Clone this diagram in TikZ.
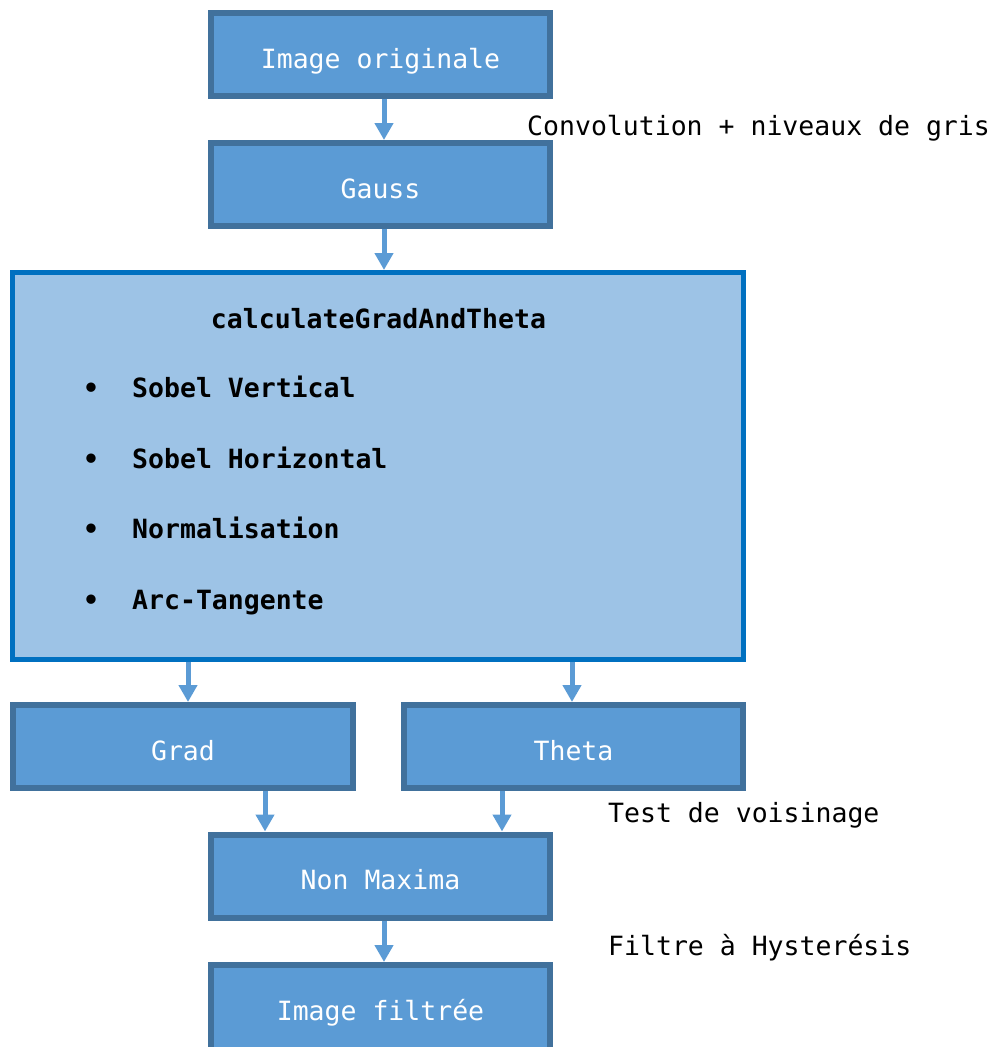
\documentclass[tikz,border=0pt]{standalone}
\usepackage{fontspec}
\setmainfont{DejaVu Sans Mono}
\usetikzlibrary{arrows.meta}
\definecolor{boxfill}{HTML}{5B9BD5}
\definecolor{boxline}{HTML}{41719C}
\definecolor{bigfill}{HTML}{9DC3E6}
\definecolor{bigline}{HTML}{0070C0}
\newcommand{\bigtxt}{\fontsize{26.5}{30}\selectfont}
\tikzset{
  stepbox/.style={draw=boxline, fill=boxfill, line width=6pt, minimum width=339pt, minimum height=83pt, inner sep=0pt, text=white, text height=27pt, text depth=0pt},
  bigbox/.style={draw=bigline, fill=bigfill, line width=5pt, minimum width=731pt, minimum height=387pt, inner sep=0pt},
  arr/.style={draw=boxfill, line width=5pt, -{Triangle[width=18pt,length=17pt]}},
  lbl/.style={inner sep=0pt, anchor=base west, text=black},
  itm/.style={inner sep=0pt, anchor=base west, font=\bigtxt\bfseries},
}
\begin{document}
\begin{tikzpicture}[x=1pt,y=-1pt,font=\bigtxt]
\useasboundingbox (0,0) rectangle (995,1047);
\begin{scope}
\clip (0,0) rectangle (995,1047);
\node[stepbox] (orig) at (380.5,54.5) {Image originale};
\node[stepbox] (gauss) at (380.5,184.5) {Gauss};
\node[bigbox] (calc) at (378,466) {};
\node[stepbox, minimum width=340pt] (grad) at (183,746.5) {Grad};
\node[stepbox] (theta) at (573.5,746.5) {Theta};
\node[stepbox] (nm) at (380.5,876) {Non Maxima};
\node[stepbox, minimum height=95pt, text height=15pt] (filt) at (380.5,1012.5) {Image filtrée};

\node[inner sep=0pt, anchor=base, font=\bigtxt\bfseries] (title) at (378.5,328) {calculateGradAndTheta};
\node[itm] (b1) at (83,397) {•};
\node[itm] (i1) at (132,397) {Sobel Vertical};
\node[itm] (b2) at (83,468) {•};
\node[itm] (i2) at (132,468) {Sobel Horizontal};
\node[itm] (b3) at (83,538) {•};
\node[itm] (i3) at (132,538) {Normalisation};
\node[itm] (b4) at (83,609) {•};
\node[itm] (i4) at (132,609) {Arc-Tangente};

\node[lbl] (l1) at (527,135) {Convolution + niveaux de gris};
\node[lbl] (l2) at (608,822) {Test de voisinage};
\node[lbl] (l3) at (608,955) {Filtre à Hysterésis};

\draw[arr] (orig.south -| 384,0) -- (gauss.north -| 384,0);
\draw[arr] (gauss.south -| 384,0) -- (calc.north -| 384,0);
\draw[arr] (calc.south -| 188,0) -- (grad.north -| 188,0);
\draw[arr] (calc.south -| 572,0) -- (theta.north -| 572,0);
\draw[arr] (grad.south -| 265,0) -- (nm.north -| 265,0);
\draw[arr] (theta.south -| 502,0) -- (nm.north -| 502,0);
\draw[arr] (nm.south -| 384,0) -- (filt.north -| 384,0);
\end{scope}
\end{tikzpicture}
\end{document}
